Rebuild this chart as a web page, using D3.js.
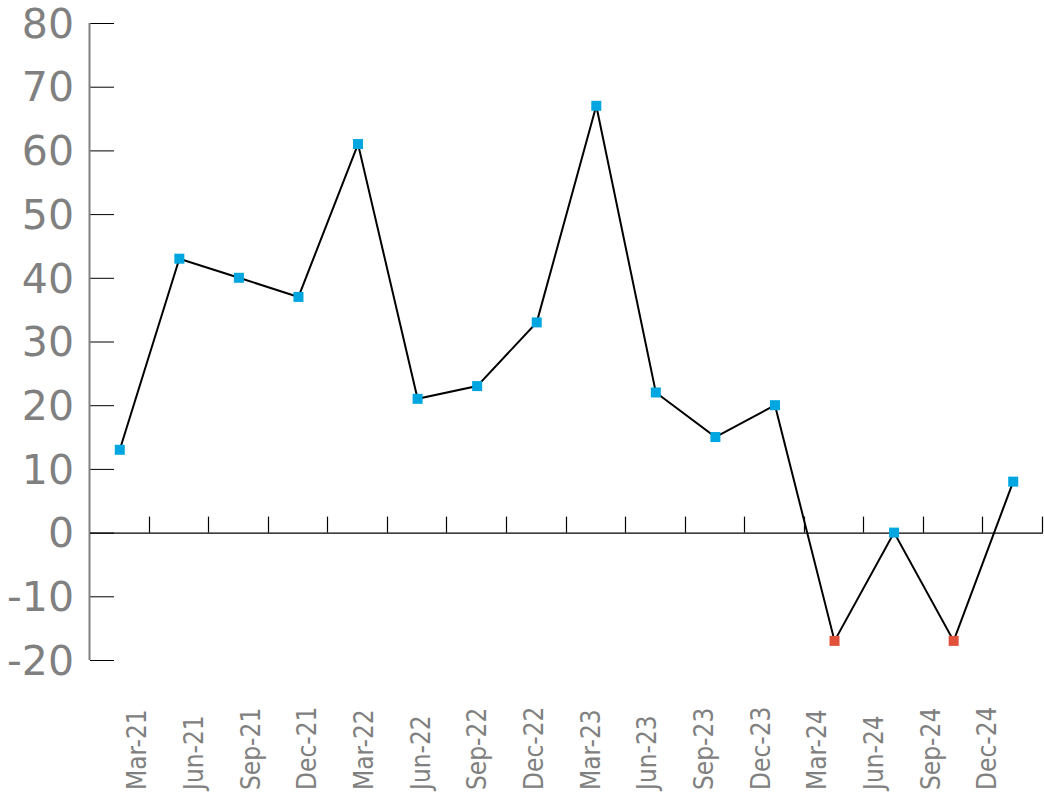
<!DOCTYPE html>
<html><head><meta charset="utf-8">
<script src="https://cdn.jsdelivr.net/npm/d3@7"></script>
<style>body{margin:0;background:#fff}svg{display:block}</style>
</head><body>
<svg id="c" width="1044" height="802"></svg>
<script>
const categories = ["Mar-21","Jun-21","Sep-21","Dec-21","Mar-22","Jun-22","Sep-22","Dec-22","Mar-23","Jun-23","Sep-23","Dec-23","Mar-24","Jun-24","Sep-24","Dec-24"];
const values = [13,43,40,37,61,21,23,33,67,22,15,20,-17,0,-17,8];
const yTicks = [-20,-10,0,10,20,30,40,50,60,70,80];

const svg = d3.select("#c");
const x = d3.scaleBand().domain(categories).range([90,1043]).padding(0);
const xl = d3.scalePoint().domain(categories).range([137,987]);
const y = d3.scaleLinear().domain([-20,80]).range([660,23]);

// y axis
const ya = svg.append("g").attr("transform","translate(90,0)")
  .call(d3.axisRight(y).tickValues(yTicks).tickSize(24).tickFormat(""));
ya.select(".domain").remove();
ya.selectAll(".tick line").attr("stroke","#000").attr("stroke-width",1);
svg.append("line").attr("x1",89.5).attr("x2",89.5).attr("y1",y(80)).attr("y2",y(-20))
  .attr("stroke","#808080").attr("stroke-width",2);
svg.append("g").selectAll("text").data(yTicks).join("text")
  .attr("x",74).attr("y",d=>y(d)).attr("dy","0.36em").attr("text-anchor","end")
  .attr("font-family","DejaVu Sans").attr("font-size",41).attr("fill","#808080")
  .text(d=>d);

// x axis at zero
const bounds = categories.map((c,i)=>x(c)+x.bandwidth());
svg.append("line").attr("x1",90).attr("x2",1043).attr("y1",y(0)+0.5).attr("y2",y(0)+0.5)
  .attr("stroke","#000").attr("stroke-width",1.2);
svg.append("g").selectAll("line").data(bounds).join("line")
  .attr("x1",d=>Math.round(d)-0.5).attr("x2",d=>Math.round(d)-0.5)
  .attr("y1",y(0)-16).attr("y2",y(0)).attr("stroke","#000").attr("stroke-width",1.2);

// x labels
svg.append("g").selectAll("text").data(categories).join("text")
  .attr("transform",d=>`translate(${xl(d)},790) rotate(-90)`)
  .attr("dy","0.36em").attr("text-anchor","start")
  .attr("font-family","DejaVu Sans Condensed, DejaVu Sans").attr("font-size",26)
  .attr("fill","#808080").text(d=>d);

// line
const cx = d=>x(d)+x.bandwidth()/2;
svg.append("path").datum(values.map((v,i)=>[cx(categories[i]),y(v)]))
  .attr("d",d3.line()).attr("fill","none").attr("stroke","#000").attr("stroke-width",2);

// markers
svg.append("g").selectAll("rect").data(values).join("rect")
  .attr("x",(v,i)=>cx(categories[i])-5).attr("y",v=>y(v)-5)
  .attr("width",10).attr("height",10)
  .attr("fill",v=>v<0?"#E2513A":"#00A6DF");
</script>
</body></html>
